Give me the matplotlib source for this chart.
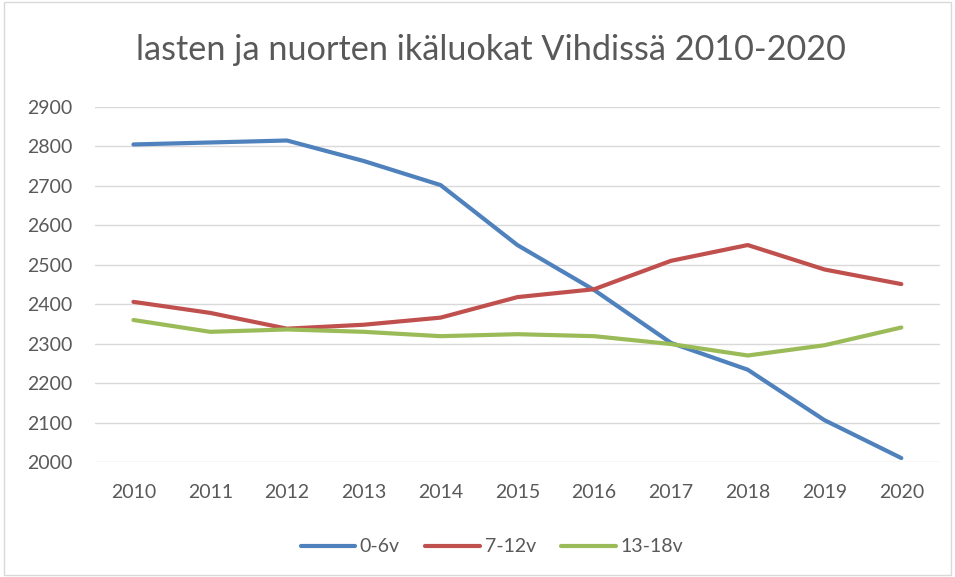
import matplotlib.pyplot as plt
from matplotlib.patches import Rectangle

# data
years = [2010, 2011, 2012, 2013, 2014, 2015, 2016, 2017, 2018, 2019, 2020]
age_0_6 = [2805, 2810, 2815, 2763, 2702, 2550, 2436, 2302, 2234, 2106, 2010]
age_7_12 = [2406, 2378, 2338, 2348, 2366, 2418, 2438, 2510, 2550, 2488, 2451]
age_13_18 = [2360, 2330, 2336, 2330, 2319, 2324, 2319, 2299, 2270, 2296, 2341]
yticks = list(range(2000, 3000, 100))

plt.rcParams['font.family'] = ['Lato', 'DejaVu Sans']

fig = plt.figure(figsize=(9.55, 5.77), dpi=100)
ax = fig.add_axes([0.0995, 0.1993, 0.8845, 0.6153])

x = list(range(len(years)))
ax.plot(x, age_0_6, color='#4F81BD', lw=3, label='0-6v', solid_capstyle='round')
ax.plot(x, age_7_12, color='#C0504D', lw=3, label='7-12v', solid_capstyle='round')
ax.plot(x, age_13_18, color='#9BBB59', lw=3, label='13-18v', solid_capstyle='round')

ax.set_xlim(-0.5, len(years) - 0.5)
ax.set_ylim(2000, 2900)
ax.set_yticks(yticks)
ax.set_xticks(x)
ax.set_xticklabels([str(y) for y in years])
ax.grid(axis='y', color='#d9d9d9', lw=1)
ax.set_axisbelow(True)
for s in ax.spines.values():
    s.set_visible(False)
ax.tick_params(length=0, labelsize=14, colors='#595959')
ax.tick_params(axis='x', pad=16)
ax.tick_params(axis='y', pad=16)

fig.text(0.514, 0.913, 'lasten ja nuorten ikäluokat Vihdissä 2010-2020',
         ha='center', va='center', fontsize=24.7, color='#595959')

leg = fig.legend(loc='center', bbox_to_anchor=(0.515, 0.052), ncol=3, frameon=False,
                 fontsize=14, handlelength=2.8, columnspacing=1.3, handletextpad=0.25)
for t in leg.get_texts():
    t.set_color('#595959')

fig.patches.append(Rectangle((0.004, 0.004), 0.992, 0.992, transform=fig.transFigure,
                             fill=False, edgecolor='#d9d9d9', lw=1))

fig.savefig('out.png', dpi=100)
